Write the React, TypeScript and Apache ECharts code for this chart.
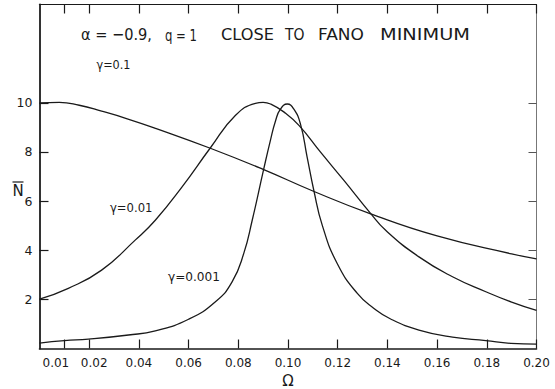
import React, { useEffect, useRef } from "react";
import * as echarts from "echarts";

// Tick values
const omegaTicks = [0.01, 0.02, 0.04, 0.06, 0.08, 0.1, 0.12, 0.14, 0.16, 0.18, 0.2];
const nTicks = [2, 4, 6, 8, 10];

// Curves: [Ω, N̄]
const gammaA: [number, number][] = [
  [0.0, 10.0], [0.008, 10.02], [0.016, 9.9], [0.025, 9.66], [0.035, 9.36],
  [0.047, 8.95], [0.069, 8.14], [0.09, 7.29], [0.11, 6.41], [0.133, 5.49],
  [0.16, 4.58], [0.19, 3.85], [0.2, 3.65],
];
const gammaB: [number, number][] = [
  [0.0, 2.01], [0.0116, 2.45], [0.025, 3.19], [0.0385, 4.41], [0.0466, 5.22],
  [0.0573, 6.57], [0.0688, 8.17], [0.0788, 9.48], [0.0869, 9.98], [0.09, 10.02],
  [0.093, 9.95], [0.0983, 9.63], [0.1044, 9.08], [0.1131, 7.99], [0.1225, 6.84],
  [0.1333, 5.49], [0.1393, 4.81], [0.1527, 3.73], [0.1662, 2.92], [0.1796, 2.31],
  [0.1897, 1.9], [0.2, 1.55],
];
const gammaC: [number, number][] = [
  [0.0, 0.22], [0.01, 0.32], [0.0197, 0.38], [0.0358, 0.55], [0.0466, 0.72],
  [0.06, 1.19], [0.0708, 1.9], [0.0775, 2.71], [0.0822, 3.87], [0.0856, 5.22],
  [0.0902, 7.29], [0.0929, 8.46], [0.095, 9.27], [0.097, 9.75], [0.0997, 9.95],
  [0.1023, 9.75], [0.105, 9.14], [0.1077, 7.79], [0.1104, 6.43], [0.1138, 5.01],
  [0.1198, 3.46], [0.1279, 2.24], [0.1346, 1.63], [0.1413, 1.2], [0.1527, 0.75],
  [0.1662, 0.46], [0.1796, 0.32], [0.1897, 0.21], [0.2, 0.18],
];

// Title words and curve labels (text, left x, target width)
const titleWords = [
  { text: "α = −0.9,", x: 81, w: 71 },
  { text: "q = 1", x: 165, w: 32 },
  { text: "CLOSE", x: 221, w: 53 },
  { text: "TO", x: 285, w: 19.5 },
  { text: "FANO", x: 318, w: 46 },
  { text: "MINIMUM", x: 380, w: 90 },
];
const curveLabels = [
  { text: "γ=0.1", x: 96.5, y: 65, w: 34 },
  { text: "γ=0.01", x: 110, y: 208, w: 42.5 },
  { text: "γ=0.001", x: 168, y: 277, w: 52 },
];

const INK = "#1a1a1a";
const FONT = "DejaVu Sans";

function measure(text: string, size: number): number {
  const c = document.createElement("canvas").getContext("2d");
  if (!c) return text.length * size * 0.6;
  c.font = `${size}px "${FONT}"`;
  return c.measureText(text).width;
}

export default function App() {
  const ref = useRef<HTMLDivElement>(null);
  useEffect(() => {
    if (!ref.current) return;
    const chart = echarts.init(ref.current, null, { renderer: "svg" });
    const tickStyle = { color: INK, width: 1.2 };
    const lineSeries = (name: string, data: [number, number][]) => ({
      name,
      type: "line",
      data,
      showSymbol: false,
      smooth: 0.5,
      lineStyle: { color: INK, width: 1.3 },
      silent: true,
    });
    const fitted = (text: string, x: number, y: number, w: number, size: number) => ({
      type: "text",
      x,
      y,
      scaleX: w / measure(text, size),
      style: {
        text,
        fontSize: size,
        fontFamily: FONT,
        fill: INK,
        verticalAlign: "middle",
      },
    });
    chart.setOption({
      animation: false,
      backgroundColor: "#ffffff",
      textStyle: { fontFamily: FONT },
      grid: {
        left: 39.5,
        right: 18.5,
        top: 4.5,
        bottom: 40.5,
        containLabel: false,
        outerBoundsMode: "none",
      },
      xAxis: [
        {
          type: "value",
          position: "bottom",
          min: 0,
          max: 0.2,
          name: "Ω",
          nameLocation: "middle",
          nameGap: 22,
          nameTextStyle: { fontSize: 15, lineHeight: 15, color: INK, fontFamily: FONT },
          axisLine: { show: true, onZero: false, lineStyle: { color: INK, width: 1.6 } },
          axisTick: { show: true, inside: true, length: 9, customValues: omegaTicks, lineStyle: tickStyle },
          axisLabel: {
            customValues: omegaTicks,
            showMinLabel: true,
            showMaxLabel: true,
            hideOverlap: false,
            formatter: (v: number) => {
              const s = v.toFixed(2);
              if (Math.abs(v - 0.01) < 1e-9) return `{a|${s}}`;
              if (Math.abs(v - 0.02) < 1e-9) return `{b|${s}}`;
              return s;
            },
            rich: {
              a: { padding: [0, 17, 0, 0], fontSize: 12, color: INK, fontFamily: FONT },
              b: { padding: [0, 0, 0, 10], fontSize: 12, color: INK, fontFamily: FONT },
            },
            margin: 8,
            fontSize: 12,
            color: INK,
            fontFamily: FONT,
          },
          splitLine: { show: false },
        },
        {
          type: "value",
          position: "top",
          min: 0,
          max: 0.2,
          axisLine: { show: true, onZero: false, lineStyle: { color: INK, width: 1.2 } },
          axisTick: { show: true, inside: true, length: 9, customValues: omegaTicks, lineStyle: tickStyle },
          axisLabel: { show: false },
          splitLine: { show: false },
        },
      ],
      yAxis: [
        {
          type: "value",
          position: "left",
          min: 0,
          max: 14,
          axisLine: { show: true, onZero: false, lineStyle: { color: "#333", width: 2 } },
          axisTick: { show: true, inside: true, length: 9, customValues: nTicks, lineStyle: tickStyle },
          axisLabel: { customValues: nTicks, margin: 7, fontSize: 12.5, color: INK, fontFamily: FONT },
          splitLine: { show: false },
        },
        {
          type: "value",
          position: "right",
          min: 0,
          max: 14,
          axisLine: { show: true, onZero: false, lineStyle: { color: "#777", width: 1 } },
          axisTick: { show: true, inside: true, length: 8, customValues: nTicks, lineStyle: { color: "#555", width: 1 } },
          axisLabel: { show: false },
          splitLine: { show: false },
        },
      ],
      series: [
        lineSeries("γ=0.1", gammaA),
        lineSeries("γ=0.01", gammaB),
        lineSeries("γ=0.001", gammaC),
      ],
      graphic: [
        ...titleWords.map((t) => fitted(t.text, t.x, 35, t.w, 16)),
        ...curveLabels.map((l) => fitted(l.text, l.x, l.y, l.w, 12)),
        {
          type: "text",
          x: 12.5,
          y: 191,
          style: { text: "N", fontSize: 15, fontFamily: FONT, fill: INK, verticalAlign: "middle" },
        },
        {
          type: "line",
          shape: { x1: 12.5, y1: 182, x2: 23.5, y2: 182 },
          style: { stroke: INK, lineWidth: 1.2 },
        },
      ],
    });
    return () => chart.dispose();
  }, []);
  return (
    <div
      ref={ref}
      style={{ position: "absolute", left: 0, top: 0, width: 555, height: 389, background: "#fff" }}
    />
  );
}
